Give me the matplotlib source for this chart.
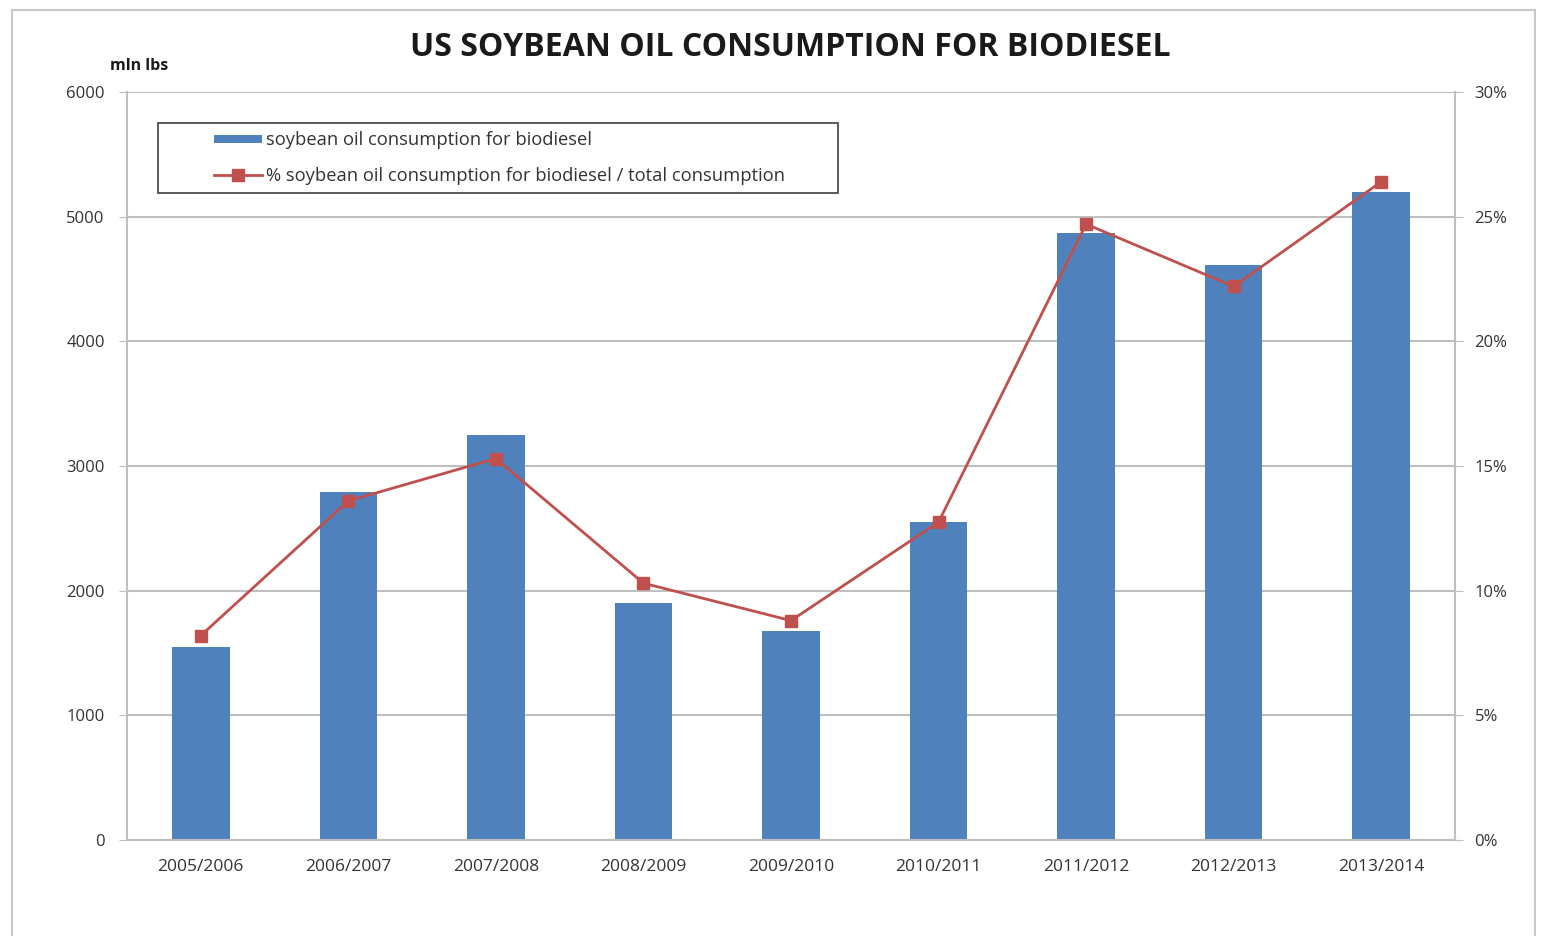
import numpy as np
import matplotlib
matplotlib.use("Agg")
import matplotlib.pyplot as plt
from matplotlib.patches import Rectangle
from matplotlib.ticker import FuncFormatter

seasons = ["2005/2006", "2006/2007", "2007/2008", "2008/2009", "2009/2010",
           "2010/2011", "2011/2012", "2012/2013", "2013/2014"]
biodiesel_mln_lbs = [1550, 2790, 3250, 1900, 1680, 2550, 4870, 4610, 5200]
share_pct = [8.2, 13.6, 15.3, 10.3, 8.8, 12.75, 24.7, 22.2, 26.4]

bar_color = "#4F81BD"
line_color = "#C0504D"
grid_color = "#BFBFBF"
text_color = "#333333"

plt.rcParams['font.family'] = ['Open Sans', 'DejaVu Sans']

W, H = 1548, 936
fig = plt.figure(figsize=(W / 100, H / 100), dpi=100)
# outer frame
fig.patches.append(Rectangle((12 / W, -0.01), (1535 - 12) / W, 1 - 10 / H + 0.01,
                             transform=fig.transFigure, fill=False,
                             edgecolor="#C8C8C8", lw=1.5))

ax = fig.add_axes([127 / W, 1 - 840 / H, (1455 - 127) / W, (840 - 92) / H])
x = np.arange(len(seasons))
ax.bar(x, biodiesel_mln_lbs, width=0.39, color=bar_color, zorder=2,
       label="soybean oil consumption for biodiesel")
ax.set_ylim(0, 6000)
ax.set_xlim(-0.5, len(seasons) - 0.5)
ax.set_yticks(range(0, 6001, 1000))
ax.set_xticks(x)
ax.set_xticklabels(seasons)
ax.yaxis.grid(True, color=grid_color, lw=1.5, zorder=0)
ax.set_axisbelow(True)
for s in ["left", "right", "bottom", "top"]:
    ax.spines[s].set_color(grid_color)
    ax.spines[s].set_linewidth(1.5)
ax.spines["top"].set_visible(False)
ax.tick_params(axis="y", length=6, color=grid_color, labelsize=12, labelcolor=text_color, pad=10)
ax.tick_params(axis="x", length=0, labelsize=12.5, labelcolor=text_color, pad=14)

ax2 = ax.twinx()
ax2.plot(x, share_pct, color=line_color, lw=2.0, marker="s", markersize=8.5,
         zorder=3, label="% soybean oil consumption for biodiesel / total consumption")
ax2.set_ylim(0, 30)
ax2.set_yticks(range(0, 31, 5))
ax2.yaxis.set_major_formatter(FuncFormatter(lambda v, p: f"{int(v)}%"))
for s in ["left", "right", "bottom", "top"]:
    ax2.spines[s].set_visible(False)
ax2.tick_params(axis="y", length=6, color=grid_color, labelsize=12, labelcolor=text_color, pad=8)

# legend frame drawn separately to get the wide padding of the original
ax2.add_patch(Rectangle((158 / W, 1 - 193 / H), (838 - 158) / W, (193 - 123) / H,
                        transform=fig.transFigure, fill=True, facecolor="white",
                        edgecolor="#404040", lw=1.2, zorder=4, clip_on=False))
h1, l1 = ax.get_legend_handles_labels()
h2, l2 = ax2.get_legend_handles_labels()
leg = ax2.legend(h1 + h2, l1 + l2, loc="center left",
                 bbox_to_anchor=(205 / W, 1 - 158 / H), bbox_transform=fig.transFigure,
                 frameon=False, fontsize=13.2, handlelength=2.6, handleheight=0.3,
                 labelspacing=0.95, borderpad=0, handletextpad=0.25)
leg.set_zorder(5)
for t in leg.get_texts():
    t.set_color(text_color)

fig.text(790 / W, 1 - 47 / H, "US SOYBEAN OIL CONSUMPTION FOR BIODIESEL",
         ha="center", va="center", fontsize=23, fontweight="bold", color="#1a1a1a")
fig.text(110 / W, 1 - 66 / H, "mln lbs", ha="left", va="center",
         fontsize=11.5, fontweight="bold", color="#1a1a1a")

fig.savefig("out.png", dpi=100)
